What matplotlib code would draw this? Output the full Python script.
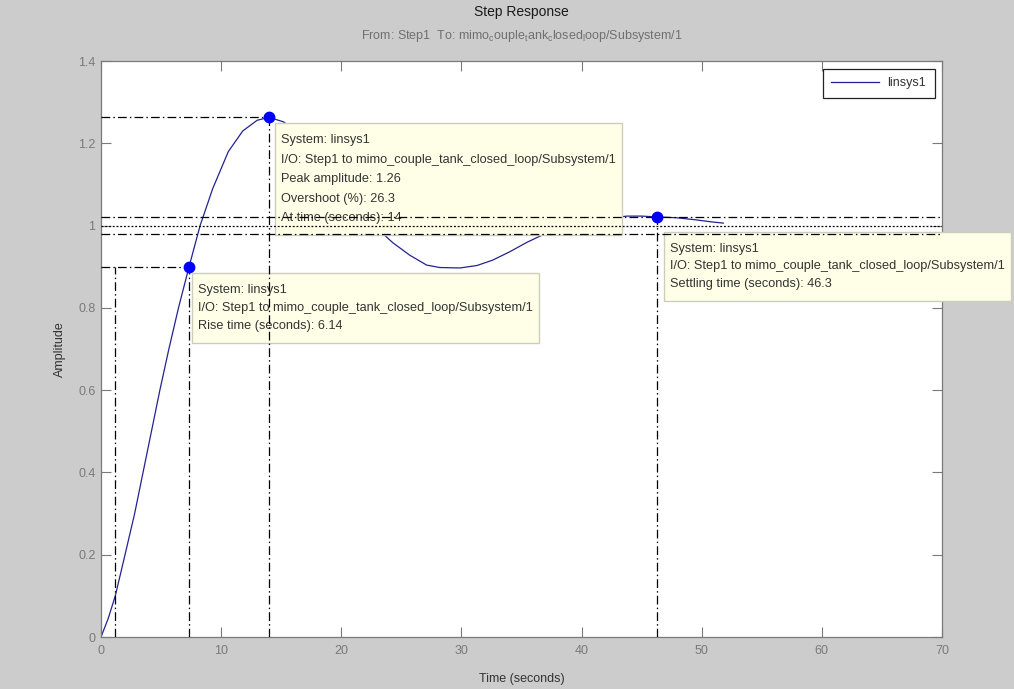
import matplotlib
matplotlib.use('Agg')
import matplotlib.pyplot as plt
from matplotlib.path import Path

# Step response (time in s, amplitude)
t = [0, 0.6, 1.19, 2.0, 2.8, 3.5, 4.2, 4.9, 5.65, 6.45, 7.33, 8.25, 9.3, 10.6,
     11.8, 13.0, 14.0, 15.2, 16.5, 18.0, 19.5, 21.0, 22.3, 23.4, 24.3, 25.7,
     27.1, 28.2, 29.9, 31.3, 32.6, 34.0, 35.5, 37.1, 38.8, 40.5, 42.2, 43.8,
     45.0, 46.3, 47.9, 49.5, 50.8, 51.8]
amp = [0, 0.045, 0.1, 0.2, 0.3, 0.4, 0.5, 0.6, 0.7, 0.8, 0.9, 1.0, 1.09, 1.18,
       1.23, 1.256, 1.263, 1.252, 1.22, 1.16, 1.095, 1.04, 1.0, 0.982, 0.958,
       0.928, 0.904, 0.898, 0.897, 0.903, 0.916, 0.936, 0.96, 0.982, 0.998,
       1.01, 1.018, 1.023, 1.023, 1.021, 1.019, 1.014, 1.009, 1.006]

# characteristics
rise_t10 = 1.19
rise_t90 = 7.33
rise_y = 0.9
rise_time = 6.14
peak_t = 14.0
peak_y = 1.263
peak_amp = 1.26
overshoot = 26.3
settle_t = 46.3
settle_y = 1.021
settle_band = 0.02
final_value = 1.0

xticks = [0, 10, 20, 30, 40, 50, 60, 70]
yticks = [0, 0.2, 0.4, 0.6, 0.8, 1.0, 1.2, 1.4]
ytick_labels = ['0', '0.2', '0.4', '0.6', '0.8', '1', '1.2', '1.4']

plt.rcParams['font.family'] = ['Liberation Sans', 'DejaVu Sans']
plt.rcParams['mathtext.fontset'] = 'custom'
plt.rcParams['mathtext.rm'] = 'Liberation Sans'


# datatip box: less padding left/right than top/bottom
def tipbox(x0, y0, width, height, mutation_size):
    px, py = 6, 11
    return Path([(x0 - px, y0 - py), (x0 + width + px, y0 - py),
                 (x0 + width + px, y0 + height + py), (x0 - px, y0 + height + py),
                 (x0 - px, y0 - py)], closed=True)


grey = '#7a7a7a'
fig = plt.figure(figsize=(10.14, 6.89), dpi=100, facecolor='#cccccc')
ax = fig.add_axes([101 / 1014, 1 - 637 / 689, 841 / 1014, 576 / 689])
ax.set_facecolor('white')

ax.plot(t, amp, color='#23238f', lw=0.9, label='linsys1', zorder=2)

dd = dict(color='black', lw=0.9, linestyle=(0, (7, 2.5, 1.2, 2.5)), zorder=5)
# rise time guides
ax.plot([0, rise_t90], [rise_y, rise_y], **dd)
ax.plot([rise_t10, rise_t10], [0, rise_y], **dd)
ax.plot([rise_t90, rise_t90], [0, rise_y], **dd)
# peak guides
ax.plot([0, peak_t], [peak_y, peak_y], **dd)
ax.plot([peak_t, peak_t], [0, peak_y], **dd)
# settling guides
ax.plot([0, 70], [final_value + settle_band] * 2, **dd)
ax.plot([0, 70], [final_value - settle_band] * 2, **dd)
ax.plot([0, 70], [final_value] * 2, color='black', lw=0.9,
        linestyle=(0, (1.5, 1.5)), zorder=5)
ax.plot([settle_t, settle_t], [0, settle_y], **dd)

# data tip markers
ax.plot([rise_t90, peak_t, settle_t], [rise_y, peak_y, settle_y], 'o',
        color='#0000ff', ms=7.5, zorder=7, clip_on=False)

box = dict(boxstyle=tipbox, fc='#ffffe8', ec='#cdcdbd', lw=1)
tip = dict(textcoords='offset pixels', ha='left', va='top', fontsize=9.2,
           color='#333333', bbox=box, zorder=4, annotation_clip=False)
io = 'I/O: Step1 to mimo_couple_tank_closed_loop/Subsystem/1'
ax.annotate('System: linsys1\n' + io + '\nPeak amplitude: %.2f\nOvershoot (%%): %.1f\nAt time (seconds): %g'
            % (peak_amp, overshoot, peak_t),
            xy=(peak_t, peak_y), xytext=(12, -17), linespacing=1.82, **tip)
ax.annotate('System: linsys1\n' + io + '\nRise time (seconds): %.2f' % rise_time,
            xy=(rise_t90, rise_y), xytext=(9, -17), linespacing=1.66, **tip)
ax.annotate('System: linsys1\n' + io + '\nSettling time (seconds): %.1f' % settle_t,
            xy=(settle_t, settle_y), xytext=(13, -26), linespacing=1.6, **tip)

ax.set_xlim(0, 70)
ax.set_ylim(0, 1.4)
ax.set_xticks(xticks)
ax.set_yticks(yticks)
ax.set_yticklabels(ytick_labels)
ax.tick_params(direction='in', length=7, width=0.8, colors=grey, labelsize=9,
               top=True, right=True)
ax.tick_params(axis='x', pad=6)
ax.tick_params(axis='y', pad=4)
for s in ax.spines.values():
    s.set_color(grey)
    s.set_linewidth(0.9)

ax.set_xlabel('Time (seconds)', fontsize=9, color='#333333', labelpad=11)
ax.set_ylabel('Amplitude', fontsize=9, color='#333333', labelpad=9)

leg = ax.legend(loc='upper right', fontsize=9, handlelength=3.8,
                handletextpad=0.65, borderpad=0.7, borderaxespad=0.6,
                fancybox=False, framealpha=1, edgecolor='#222222')
leg.get_frame().set_linewidth(0.9)
for txt in leg.get_texts():
    txt.set_color('#333333')

fig.text(521.5 / 1014, 1 - 12 / 689, 'Step Response', ha='center', va='center',
         fontsize=10, color='#1a1a1a')
fig.text(521.5 / 1014, 1 - 36 / 689,
         r'From: Step1  To: mimo$_{\mathrm{c}}$ouple$_{\mathrm{t}}$ank$_{\mathrm{c}}$losed$_{\mathrm{l}}$oop/Subsystem/1',
         ha='center', va='center', fontsize=9, color='#707070')

fig.savefig('out.png', dpi=100, facecolor=fig.get_facecolor())
